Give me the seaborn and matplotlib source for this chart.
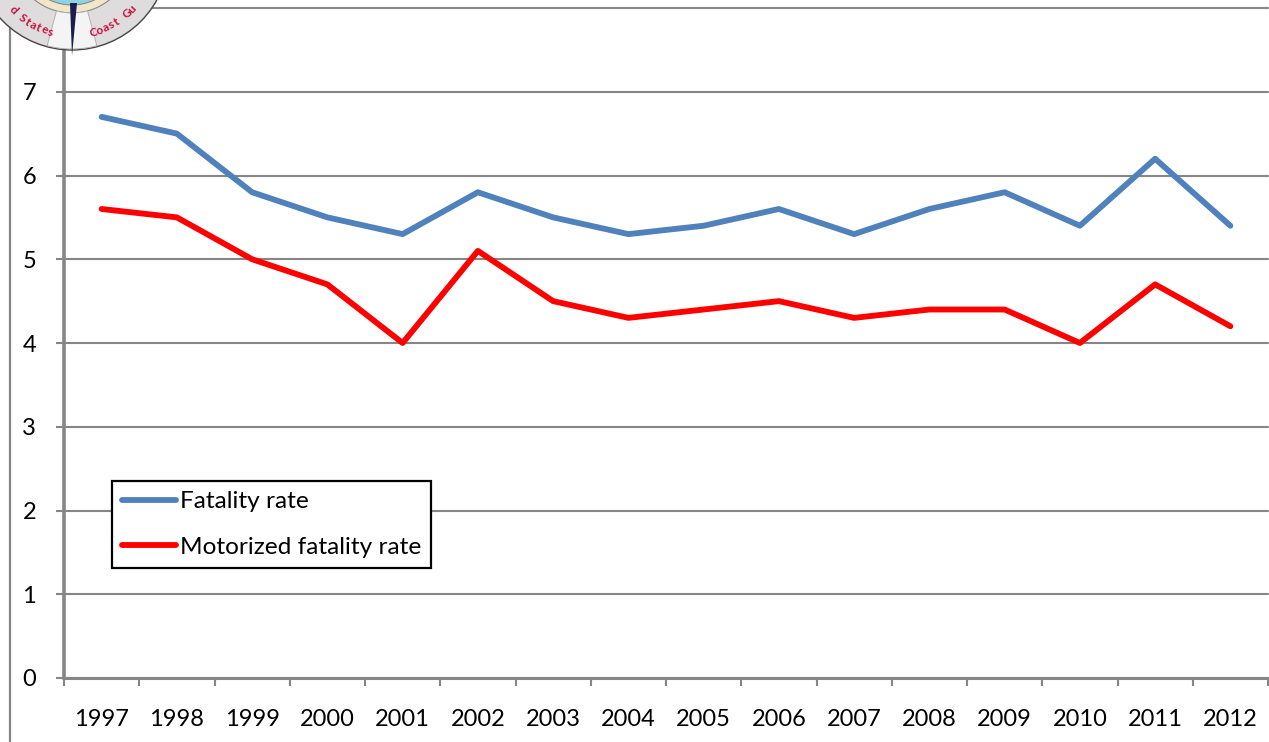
import matplotlib
matplotlib.use('Agg')
import matplotlib.pyplot as plt
from matplotlib.patches import Circle, Polygon, Wedge
import numpy as np
import pandas as pd
import seaborn as sns

# data
years = ['1997', '1998', '1999', '2000', '2001', '2002', '2003', '2004',
         '2005', '2006', '2007', '2008', '2009', '2010', '2011', '2012']
fatality = [6.7, 6.5, 5.8, 5.5, 5.3, 5.8, 5.5, 5.3, 5.4, 5.6, 5.3, 5.6, 5.8, 5.4, 6.2, 5.4]
motorized = [5.6, 5.5, 5.0, 4.7, 4.0, 5.1, 4.5, 4.3, 4.4, 4.5, 4.3, 4.4, 4.4, 4.0, 4.7, 4.2]
y_ticks = [0, 1, 2, 3, 4, 5, 6, 7, 8]
y_labels = ['0', '1', '2', '3', '4', '5', '6', '7', '']

W, H = 1269, 742
GREY = '#868686'

sns.set_theme(style='white')
plt.rcParams['font.family'] = ['Lato', 'DejaVu Sans']

df = pd.DataFrame({'Year': years, 'Fatality rate': fatality, 'Motorized fatality rate': motorized})
long_df = df.melt('Year', var_name='Series', value_name='Rate')

fig = plt.figure(figsize=(W / 100, H / 100), dpi=100, facecolor='white')
ax = fig.add_axes([64 / W, 1 - 678 / H, (1268 - 64) / W, (678 - 8) / H])

sns.lineplot(data=long_df, x='Year', y='Rate', hue='Series', sort=False,
             palette={'Fatality rate': '#4f81bd', 'Motorized fatality rate': '#ff0000'},
             linewidth=4.2, ax=ax, zorder=3, solid_joinstyle='round', solid_capstyle='round')

ax.set_xlim(-0.5, 15.5)
ax.set_ylim(0, 8)
ax.set_xlabel('')
ax.set_ylabel('')

# horizontal gridlines plus the tick stubs to the left of the axis
ax.set_yticks(y_ticks, y_labels, fontsize=17, color='black')
ax.yaxis.grid(True, color=GREY, linewidth=1.5)
ax.xaxis.grid(False)
for line in ax.get_ygridlines():
    line.set_clip_on(False)
ax.tick_params(axis='y', left=True, length=6, width=1.5, color=GREY, pad=14)

# year labels sit between the tick marks
ax.set_xticks(range(len(years)), years, fontsize=17, color='black')
ax.set_xticks(np.arange(-0.5, 16, 1), minor=True)
ax.tick_params(axis='x', which='major', bottom=False, pad=16)
ax.tick_params(axis='x', which='minor', bottom=True, length=6, width=1.5, color=GREY)

for side in ['top', 'right']:
    ax.spines[side].set_visible(False)
ax.spines['left'].set_color(GREY)
ax.spines['left'].set_linewidth(2.6)
ax.spines['bottom'].set_color(GREY)
ax.spines['bottom'].set_linewidth(2.2)

leg = ax.legend(loc='lower left', bbox_to_anchor=((112 - 64) / (1268 - 64), (678 - 568) / (678 - 8)),
                fontsize=17.6, frameon=True, fancybox=False, framealpha=1, edgecolor='black',
                labelcolor='black', handlelength=2.2, handletextpad=0.15, labelspacing=1.0,
                borderpad=0.42, borderaxespad=0)
leg.get_frame().set_linewidth(1.6)
leg.set_zorder(5)

# left edge of the outer frame
fig.add_artist(plt.Line2D([10 / W, 10 / W], [0, 1], color=GREY, linewidth=1.6))

# seal clipped by the top of the image
overlay = fig.add_axes([0, 0, 1, 1], zorder=10)
overlay.set_xlim(0, W)
overlay.set_ylim(H, 0)
overlay.axis('off')
cx, cy, r = 72, -47, 97
overlay.add_patch(Circle((cx, cy), r, facecolor='#dedcdd', edgecolor='#444444', linewidth=1.0))
overlay.add_patch(Circle((cx, cy), r - 37, facecolor='#f1e6c8', edgecolor='#888888', linewidth=0.8))
overlay.add_patch(Circle((cx, cy), r - 45, facecolor='#8fd3e0', edgecolor='#888888', linewidth=0.8))
overlay.add_patch(Wedge((cx, cy), r - 1, 75, 105, width=36, facecolor='#f4f4f4', edgecolor='#aaaaaa', linewidth=0.6))
overlay.add_patch(Polygon([(70, 3), (77, 3), (72, 56)], closed=True, facecolor='#1c1c50', edgecolor='none'))


def arc_text(text, start_deg, step_deg):
    # one letter at a time round the rim, angles measured from straight down
    for i, ch in enumerate(text):
        a = np.radians(start_deg + i * step_deg)
        px = cx + (r - 15) * np.sin(a)
        py = cy + (r - 15) * np.cos(a)
        overlay.text(px, py, ch, color='#c8103c', fontsize=8.5, fontweight='bold',
                     rotation=np.degrees(a), ha='center', va='center')


# only the part of each word that shows below the top edge
arc_text('d States', -46, 4.4)
arc_text('Coast Gu', 15, 4.6)

fig.savefig('out.png', dpi=100)
